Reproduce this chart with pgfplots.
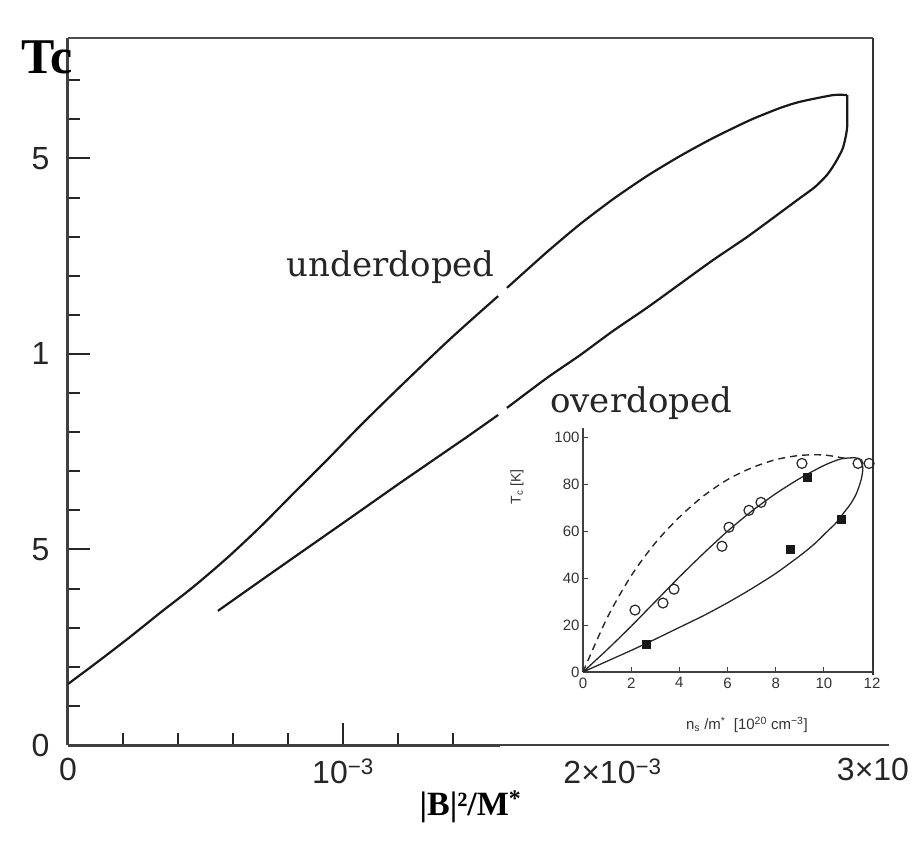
\documentclass[border=0pt]{standalone}
\usepackage{fontspec}
\setmainfont{Liberation Serif}
\setsansfont{Liberation Sans}
\newfontfamily\slabfont{DejaVu Serif}
\usepackage{pgfplots}
\pgfplotsset{compat=1.18}
\begin{document}
\begin{tikzpicture}
\useasboundingbox (-68pt,-103pt) rectangle (855pt,745pt);
\begin{axis}[
  at={(0pt,0pt)}, anchor=south west,
  scale only axis, width=805pt, height=707pt,
  xmin=0, xmax=2.927, ymin=0, ymax=1.808,
  axis line style={draw=none},
  clip=false,
  tick pos=left,
  tick align=inside,
  /pgf/number format/assume math mode=true,
  tick style={line width=2pt, black!85},
  major tick length=22pt, minor tick length=12pt,
  xtick={1}, xticklabels={10\textsuperscript{−3}},
  extra x ticks={0,1.98,2.927},
  extra x tick labels={0,2×10\textsuperscript{−3},3×10},
  extra x tick style={major tick length=0pt},
  minor xtick={0.2,0.4,0.6,0.8,1.2,1.4},
  ytick={0,0.5,1,1.5}, yticklabels={0,5,1,5},
  minor ytick={0.1,0.2,0.3,0.4,0.6,0.7,0.8,0.9,1.1,1.2,1.3,1.4,1.6,1.7},
  tick label style={font=\sffamily\fontsize{32}{34}\selectfont, black!85},
  yticklabel style={xshift=-15pt},
  xticklabel style={yshift=-10pt},
  xlabel={\bfseries |B|²/M\textsuperscript{*}},
  xlabel style={font=\fontsize{34}{36}\selectfont, at={(axis description cs:0.5,-0.087)}, anchor=center},
]
\draw[line width=3pt, black!75] (axis cs:0,0) -- (axis cs:0,1.808);
\draw[line width=3pt, black!75] (axis cs:0,0) -- (axis cs:1.57,0);
\draw[line width=1.3pt, black!75] (axis cs:1.57,0) -- (axis cs:2.985,0);
\draw[line width=2.5pt, black!70] (axis cs:0,1.808) -- (axis cs:2.927,1.808);
\draw[line width=2pt, black!80] (axis cs:2.927,1.808) -- (axis cs:2.927,0.179);

% underdoped branch, lower part
\addplot[line width=2.2pt, black!90, smooth, tension=0.5] coordinates {
(0.000,0.156) (0.116,0.217) (0.225,0.276) (0.335,0.338) (0.455,0.404)
(0.578,0.478) (0.698,0.557) (0.818,0.642) (0.942,0.729) (1.062,0.816)
(1.207,0.916) (1.389,1.038) (1.564,1.148)};
% upper part around the tip and back along the overdoped branch
\addplot[line width=2.2pt, black!90, smooth, tension=0.4] coordinates {
(1.596,1.169) (1.742,1.261) (1.862,1.332) (1.982,1.396) (2.105,1.455)
(2.225,1.506) (2.345,1.552) (2.480,1.598) (2.589,1.629) (2.662,1.645)
(2.782,1.662) (2.833,1.662)};
\addplot[line width=2.2pt, black!90, smooth, tension=0.4] coordinates {
(2.833,1.662) (2.833,1.581) (2.825,1.547) (2.815,1.522) (2.789,1.488)
(2.760,1.458) (2.716,1.427) (2.662,1.399) (2.589,1.361) (2.469,1.299)
(2.345,1.240) (2.225,1.179) (2.105,1.118) (1.982,1.059) (1.862,0.997)
(1.742,0.939) (1.596,0.862)};
% overdoped branch, lower part
\addplot[line width=2.2pt, black!90] coordinates {
(1.564,0.844) (1.451,0.788) (1.207,0.670) (1.015,0.575) (0.844,0.491)
(0.698,0.419) (0.545,0.343)};

\node[font=\bfseries\fontsize{50}{52}\selectfont] at (rel axis cs:-0.026,0.972) {Tc};
\node[font=\slabfont\fontsize{34}{36}\selectfont, black!85] at (rel axis cs:0.401,0.676) {underdoped};
\node[font=\slabfont\fontsize{34}{36}\selectfont, black!85] at (rel axis cs:0.712,0.484) {overdoped};
\end{axis}

\begin{axis}[
  at={(515pt,73pt)}, anchor=south west,
  scale only axis, width=289pt, height=244pt,
  xmin=0, xmax=12, ymin=0, ymax=104,
  axis x line*=bottom, axis y line*=left,
  axis line style={line width=1.2pt, black!75},
  xtick={0,2,...,12}, ytick={0,20,...,100},
  tick align=inside,
  major tick length=5pt,
  tick style={line width=1pt, black!75},
  /pgf/number format/assume math mode=true,
  tick label style={font=\sffamily\fontsize{15}{16}\selectfont, black!80},
  xticklabel style={yshift=-2pt},
  xlabel={n\textsubscript{s} /m\textsuperscript{*}\ \ [10\textsuperscript{20} cm\textsuperscript{−3}]},
  xlabel style={font=\sffamily\fontsize{15}{16}\selectfont, black!80, at={(axis description cs:0.567,-0.217)}, anchor=center},
  ylabel={T\textsubscript{c} [K]},
  ylabel style={font=\sffamily\fontsize{14}{15}\selectfont, black!80, at={(axis description cs:-0.228,0.758)}, anchor=center},
  clip=false,
]
\addplot[line width=1.4pt, black!85, dash pattern=on 7pt off 5pt, smooth, tension=0.5] coordinates {
(0,0) (1,23) (2,41) (3,55) (4,66) (5,75) (6,82) (7,87) (8,90.5) (9,92.3) (10,92.5) (10.9,91)};
\addplot[line width=1.3pt, black!85, smooth, tension=0.45] coordinates {
(0,0) (1,9.5) (2,19.5) (3,30) (4,40.5) (5,50.5) (6,60) (7,68.5) (8,76) (9,82.5)
(10,88) (10.7,90.8) (11.3,91.3) (11.5,90.5) (11.62,87) (11.55,82) (11.35,76)
(11.1,71.5) (10.8,67.5) (10.5,63.5) (10.1,59.5) (9.6,54.5) (9,49.5) (8,42)
(7,35.5) (6,29.5) (5,24) (4,19) (3,14) (2,9.2) (1,4.6) (0,0)};
\addplot[only marks, mark=o, mark size=5pt, mark options={line width=1.2pt, black!85, fill=white}] coordinates {
(2.16,26.4) (3.32,29.4) (3.78,35.3) (5.77,53.6) (6.06,61.7) (6.89,68.9)
(7.39,72.3) (9.09,88.9) (11.42,88.9) (11.88,88.9)};
\addplot[only marks, mark=square*, mark size=4.2pt, mark options={black!90}] coordinates {
(2.62,11.9) (8.60,52.3) (9.30,83.0) (10.71,65.1)};
\end{axis}
\end{tikzpicture}
\end{document}
